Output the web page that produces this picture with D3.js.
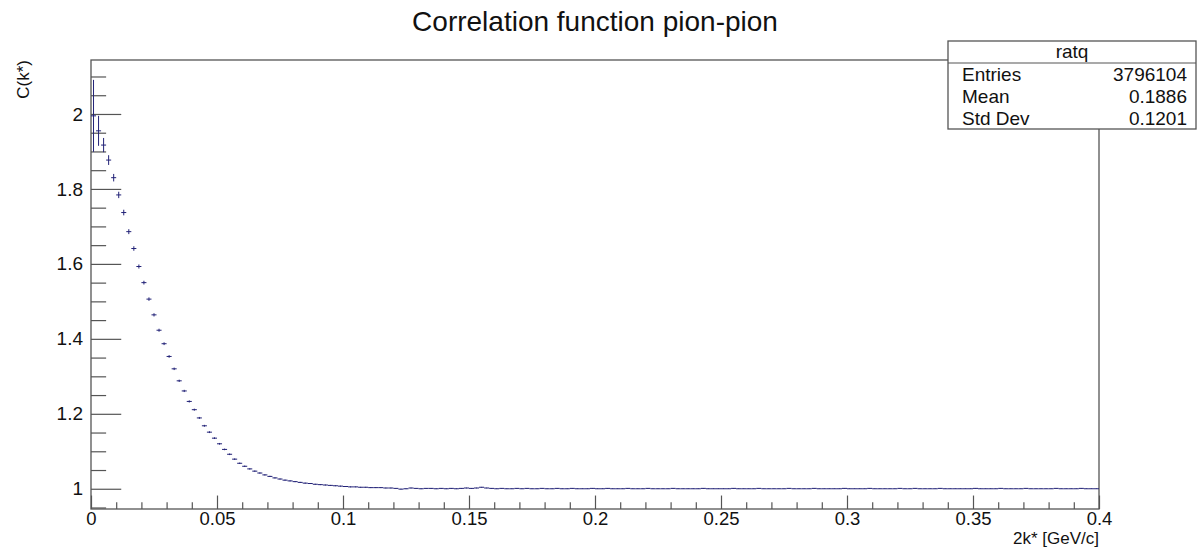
<html>
  <head>
    <script src="https://cdn.jsdelivr.net/npm/d3@7"></script>
    <title>Correlation function pion-pion</title>
    <style>
      body { margin: 0; background: #fff; }
      text { font-family: "Liberation Sans", Arial, Helvetica, sans-serif; fill: #111; }
      .tick line { stroke: #555; }
      .domain { stroke: none; }
    </style>
  </head>
  <body>
    <svg id="graph1" width="1198" height="548"></svg>
    <script>
      const svg = d3.select("svg#graph1");
      const width = +svg.attr("width");
      const height = +svg.attr("height");
      const margin = {"top": 60, "right": 99, "bottom": 39, "left": 91};

      // histogram "ratq": 200 bins of 0.002 from 0 to 0.4
      const binLow = 0, binWidth = 0.002;
      const values = [
        1.995,1.955,1.917,1.877,1.830,1.784,1.737,1.686,1.641,1.593,
        1.550,1.506,1.464,1.423,1.387,1.353,1.320,1.288,1.261,1.233,
        1.211,1.189,1.168,1.151,1.135,1.120,1.105,1.092,1.079,1.068,
        1.060,1.053,1.047,1.042,1.037,1.033,1.029,1.026,1.023,1.021,
        1.019,1.017,1.015,1.014,1.012,1.011,1.010,1.009,1.008,1.007,
        1.006,1.005,1.005,1.004,1.004,1.003,1.003,1.003,1.002,1.002,
        1.001,0.999,1.000,1.002,1.001,1.000,1.001,1.001,1.000,1.001,
        1.000,1.001,1.000,1.001,1.002,1.001,1.002,1.004,1.002,1.001,
        1.000,1.001,1.000,1.000,1.001,1.000,1.001,1.000,1.000,1.001,
        1.000,1.000,1.001,1.000,1.000,1.001,1.000,1.000,1.000,1.001,
        1.000,1.000,1.001,1.000,1.000,1.000,1.001,1.000,1.000,1.000,
        1.001,1.000,1.000,1.000,1.000,1.001,1.000,1.000,1.000,1.000,
        1.000,1.001,1.000,1.000,1.000,1.000,1.000,1.001,1.000,1.000,
        1.000,1.000,1.001,1.000,1.000,1.000,1.000,1.000,1.001,1.000,
        1.000,1.000,1.000,1.001,1.000,1.000,1.000,1.000,1.000,1.001,
        1.000,1.000,1.000,1.000,1.001,1.000,1.000,1.000,1.000,1.000,
        1.001,1.000,1.000,1.001,1.000,1.000,1.000,1.000,1.001,1.000,
        1.000,1.000,1.000,1.000,1.000,1.001,1.000,1.000,1.000,1.000,
        1.001,1.000,1.000,1.000,1.000,1.001,1.000,1.000,1.000,1.000,
        1.000,1.001,1.000,1.000,1.000,1.000,1.001,1.000,1.000,1.000
      ];
      const errors = [
        .096,.040,.019,.013,.010,.0085,.0075,.0066,.0060,.0054,
        .0050,.0046,.0043,.0040,.0037,.0035,.0033,.0031,.0030,.0028,
        .0027,.0026,.0025,.0024,.0023,.0022,.0021,.0021,.0020,.0019,
        .0019,.0018,.0018,.0017,.0017,.0016,.0016,.0015,.0015,.0015,
        .0014,.0014,.0014,.0013,.0013,.0013,.0013,.0012,.0012,.0012,
        .0012,.0012,.0011,.0011,.0011,.0011,.0011,.0011,.0010,.0010,
        .0010,.0010,.0010,.0010,.0010,.0010,.0009,.0009,.0009,.0009,
        .0009,.0009,.0009,.0009,.0009,.0009,.0009,.0009,.0008,.0008,
        .0008,.0008,.0008,.0008,.0008,.0008,.0008,.0008,.0008,.0008,
        .0008,.0008,.0008,.0008,.0008,.0007,.0007,.0007,.0007,.0007,
        .0007,.0007,.0007,.0007,.0007,.0007,.0007,.0007,.0007,.0007,
        .0007,.0007,.0007,.0007,.0007,.0007,.0007,.0007,.0007,.0007,
        .0007,.0007,.0007,.0007,.0007,.0007,.0006,.0006,.0006,.0006,
        .0006,.0006,.0006,.0006,.0006,.0006,.0006,.0006,.0006,.0006,
        .0006,.0006,.0006,.0006,.0006,.0006,.0006,.0006,.0006,.0006,
        .0006,.0006,.0006,.0006,.0006,.0006,.0006,.0006,.0006,.0006,
        .0006,.0006,.0006,.0006,.0006,.0006,.0006,.0006,.0006,.0006,
        .0006,.0006,.0006,.0006,.0006,.0006,.0006,.0006,.0006,.0006,
        .0006,.0006,.0006,.0006,.0006,.0006,.0006,.0006,.0006,.0006,
        .0006,.0006,.0006,.0006,.0006,.0006,.0006,.0006,.0006,.0006
      ];

      const xMajor = [0, 0.05, 0.1, 0.15, 0.2, 0.25, 0.3, 0.35, 0.4];
      const yMajor = [1, 1.2, 1.4, 1.6, 1.8, 2];
      const statsLabels = ["Entries", "Mean", "Std Dev"];
      const statsValues = ["3796104", "0.1886", "0.1201"];

      const bins = values.map((v, i) => ({
        "lo": binLow + i*binWidth,
        "hi": binLow + (i+1)*binWidth,
        "mid": binLow + (i+0.5)*binWidth,
        "v": v,
        "e": errors[i]
      }));

      // Scales
      const xScale = d3.scaleLinear().domain([0, 0.4]).range([margin.left, width - margin.right]);
      const yScale = d3.scaleLinear().domain([0.946, 2.144]).range([height - margin.bottom, margin.top]);
      const plotW = width - margin.left - margin.right;
      const plotH = height - margin.top - margin.bottom;

      const fmt = d => String(+d.toFixed(3));

      // minor ticks
      const xMinor = d3.range(0, 0.4001, 0.01).filter(t => !xMajor.some(m => Math.abs(m - t) < 1e-6));
      const yMinor = d3.range(0.95, 2.144, 0.05).filter(t => !yMajor.some(m => Math.abs(m - t) < 1e-6));

      svg.append("g")
        .attr("transform", "translate(" + margin.left + ",0)")
        .call(d3.axisLeft(yScale).tickValues(yMinor).tickSize(-0.015*plotW).tickFormat(""));
      svg.append("g")
        .attr("transform", "translate(" + margin.left + ",0)")
        .call(d3.axisLeft(yScale).tickValues(yMajor).tickSize(-0.03*plotW).tickPadding(8).tickFormat(fmt))
        .selectAll("text").style("font-size", "19px").attr("fill", "#111");

      svg.append("g")
        .attr("transform", "translate(0," + (height - margin.bottom) + ")")
        .call(d3.axisBottom(xScale).tickValues(xMinor).tickSize(-0.015*plotH).tickFormat(""));
      svg.append("g")
        .attr("transform", "translate(0," + (height - margin.bottom) + ")")
        .call(d3.axisBottom(xScale).tickValues(xMajor).tickSize(-0.03*plotH).tickPadding(3).tickFormat(fmt))
        .selectAll("text").style("font-size", "18.5px").attr("fill", "#111");

      svg.selectAll(".tick line").attr("stroke", "#555").attr("stroke-width", 1.2);

      // frame
      svg.append("rect")
        .attr("x", margin.left).attr("y", margin.top)
        .attr("width", plotW).attr("height", plotH)
        .attr("fill", "none").attr("stroke", "#555").attr("stroke-width", 1.3);

      // histogram with error bars
      const hist = svg.append("g").attr("stroke", "#222277").attr("stroke-width", 1);
      hist.selectAll("line.h").data(bins).join("line")
        .attr("class", "h")
        .attr("x1", d => xScale(d.lo)).attr("x2", d => xScale(d.hi))
        .attr("y1", d => yScale(d.v)).attr("y2", d => yScale(d.v));
      hist.selectAll("line.e").data(bins).join("line")
        .attr("class", "e")
        .attr("x1", d => xScale(d.mid)).attr("x2", d => xScale(d.mid))
        .attr("y1", d => yScale(d.v - d.e)).attr("y2", d => yScale(d.v + d.e));

      // title and axis titles
      svg.append("text")
        .attr("x", 595).attr("y", 31)
        .attr("text-anchor", "middle")
        .style("font-size", "28px")
        .text("Correlation function pion-pion");

      svg.append("text")
        .attr("x", width - margin.right).attr("y", 544)
        .attr("text-anchor", "end")
        .style("font-size", "17px")
        .text("2k* [GeV/c]");

      svg.append("text")
        .attr("transform", "translate(29," + margin.top + ") rotate(-90)")
        .attr("text-anchor", "end")
        .style("font-size", "17px")
        .text("C(k*)");

      // stats box
      const box = {"x": 948, "y": 41, "w": 248, "row": 22};
      const stats = svg.append("g");
      stats.append("rect")
        .attr("x", box.x).attr("y", box.y)
        .attr("width", box.w).attr("height", box.row * 4)
        .attr("fill", "#fff").attr("stroke", "#555").attr("stroke-width", 1.3);
      stats.append("line")
        .attr("x1", box.x).attr("x2", box.x + box.w)
        .attr("y1", box.y + box.row).attr("y2", box.y + box.row)
        .attr("stroke", "#555").attr("stroke-width", 1.2);
      stats.append("text")
        .attr("x", box.x + box.w/2).attr("y", box.y + 17)
        .attr("text-anchor", "middle").style("font-size", "19px")
        .text("ratq");
      statsLabels.forEach((lab, i) => {
        stats.append("text")
          .attr("x", box.x + 14).attr("y", box.y + box.row*(i+1) + 18)
          .style("font-size", "19px").text(lab);
        stats.append("text")
          .attr("x", box.x + box.w - 9).attr("y", box.y + box.row*(i+1) + 18)
          .attr("text-anchor", "end").style("font-size", "19px").text(statsValues[i]);
      });
    </script>
  </body>
</html>
